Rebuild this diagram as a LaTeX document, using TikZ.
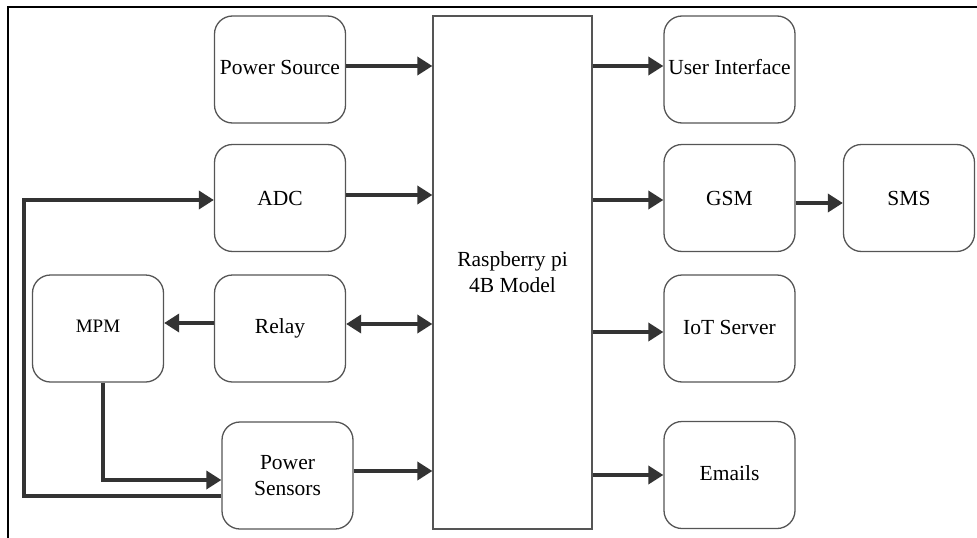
\documentclass[tikz,border=0pt]{standalone}
\usepackage{fontspec}
\setmainfont{Liberation Serif}
\usetikzlibrary{arrows.meta}
\definecolor{linec}{HTML}{333333}
\definecolor{boxc}{HTML}{555555}
\begin{document}
\begin{tikzpicture}[x=1pt,y=-1pt,
  box/.style={draw=boxc, line width=1.3pt, rounded corners=18pt, minimum width=131pt, minimum height=107pt, align=center, inner sep=0pt, font=\fontsize{21.5}{26}\selectfont},
  mainbox/.style={draw=boxc, line width=1.3pt, minimum width=159pt, minimum height=513pt, align=center, inner sep=0pt, font=\fontsize{21.5}{26}\selectfont},
  conn/.style={draw=linec, line width=3.5pt},
  arr/.style={conn, -{Triangle[length=15pt,width=18pt]}},
  darr/.style={conn, {Triangle[length=15pt,width=18pt]}-{Triangle[length=15pt,width=18pt]}}]
\useasboundingbox (0,0) rectangle (977,538);
\draw[line width=1.3pt] (977,7) -- (8,7) -- (8,538);

\node[mainbox] (rpi) at (512.5,272.5) {Raspberry pi\\4B Model};

\node[box] (ps) at (280,69.5) {\raisebox{5pt}{Power Source}};
\node[box] (adc) at (280,198) {ADC};
\node[box] (relay) at (280,328.5) {\raisebox{4pt}{Relay}};
\node[box] (mpm) at (98,328.5) {\raisebox{4pt}{\fontsize{19}{22}\selectfont MPM}};
\node[box] (psens) at (287.5,475.5) {Power\\Sensors};

\node[box] (ui) at (729.5,69.5) {\raisebox{5pt}{User Interface}};
\node[box] (gsm) at (729.5,198) {GSM};
\node[box] (sms) at (909,198) {SMS};
\node[box] (iot) at (729.5,328.5) {\raisebox{3pt}{IoT Server}};
\node[box] (em) at (729.5,475) {\raisebox{3pt}{Emails}};

\coordinate (fbA) at (24,496);
\coordinate (fbB) at (24,200);
\coordinate (mpmA) at (103,480);

\draw[arr] (ps.east |- 0,66) -- (rpi.west |- 0,66);
\draw[arr] (adc.east |- 0,195) -- (rpi.west |- 0,195);
\draw[darr] (relay.east |- 0,324) -- (rpi.west |- 0,324);
\draw[arr] (relay.west |- 0,323) -- (mpm.east |- 0,323);
\draw[arr] (psens.east |- 0,471) -- (rpi.west |- 0,471);

\draw[arr] (rpi.east |- 0,66) -- (ui.west |- 0,66);
\draw[arr] (rpi.east |- 0,200) -- (gsm.west |- 0,200);
\draw[arr] (gsm.east |- 0,203) -- (sms.west |- 0,203);
\draw[arr] (rpi.east |- 0,332) -- (iot.west |- 0,332);
\draw[arr] (rpi.east |- 0,475) -- (em.west |- 0,475);

\draw[arr] (mpm.south -| mpmA) -- (mpmA) -- (psens.west |- mpmA);
\draw[arr] (psens.west |- fbA) -- (fbA) -- (fbB) -- (adc.west |- fbB);
\end{tikzpicture}
\end{document}
